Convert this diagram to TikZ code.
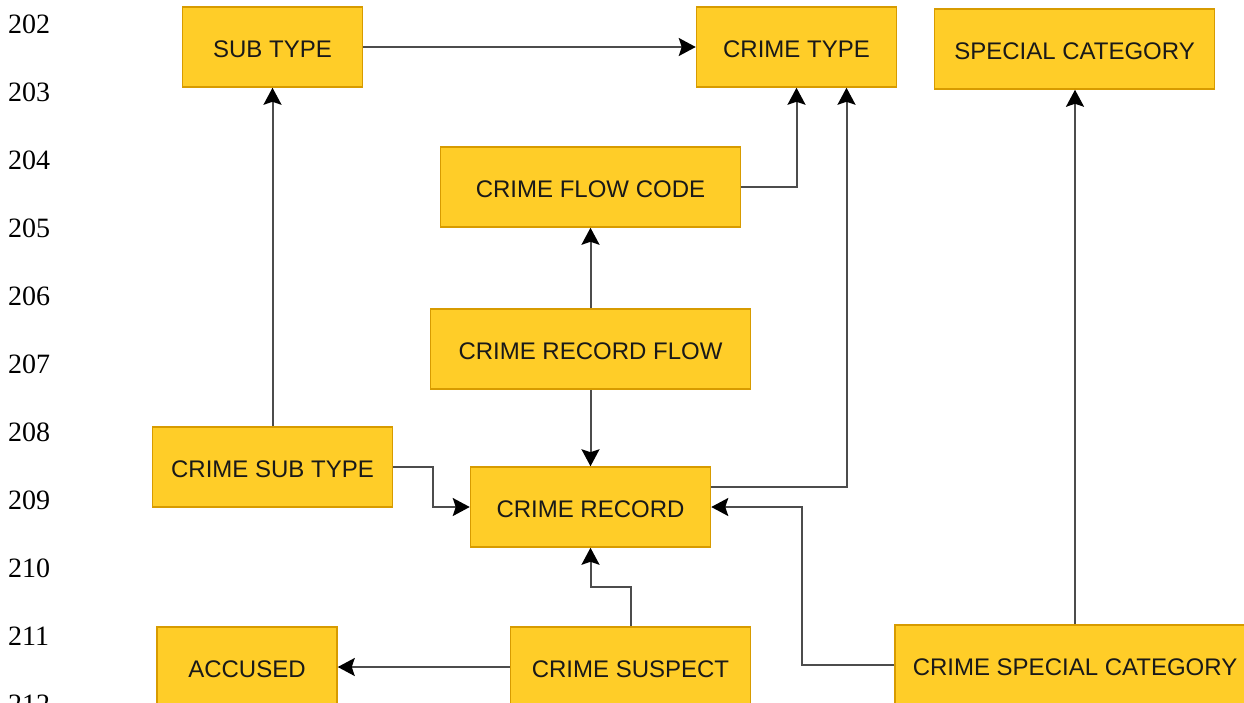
\documentclass[tikz,border=0pt]{standalone}
\usepackage{fontspec}
\usetikzlibrary{arrows.meta,calc}
\newfontfamily\boxfont{Liberation Sans}
\newfontfamily\numfont{Liberation Serif}
\definecolor{boxfill}{HTML}{FFCD28}
\definecolor{boxline}{HTML}{D79B00}
\tikzset{x=1pt,y=1pt,
    tablebox/.style={draw=boxline,fill=boxfill,line width=1.5pt,inner sep=0pt,
        minimum height=80pt,text height=21pt,text depth=0pt,text=black!90,
        font=\boxfont\fontsize{24}{28}\selectfont},
    link/.style={draw=black!70,line width=2pt,
        -{Stealth[length=17pt,width=18pt,inset=3pt,color=black]}},
    lineno/.style={anchor=west,inner sep=0pt,font=\numfont\fontsize{28}{32}\selectfont},
    }
\begin{document}
\begin{tikzpicture}
	\useasboundingbox (0,0) rectangle (1244,-702);
	\clip (0,0) rectangle (1244,-702);
	% line numbers
	\foreach \i in {0,...,10}{
		\pgfmathtruncatemacro\num{202+\i}
		\node[lineno] (ln\i) at (8,-24-68*\i) {\num};
	}
	% tables
	\node[tablebox,minimum width=180pt] (subtype) at (272.5,-47) {SUB TYPE};
	\node[tablebox,minimum width=200pt] (crimetype) at (796.5,-47) {CRIME TYPE};
	\node[tablebox,minimum width=280pt] (specialcat) at (1074.5,-49) {SPECIAL CATEGORY};
	\node[tablebox,minimum width=300pt] (flowcode) at (590.5,-187) {CRIME FLOW CODE};
	\node[tablebox,minimum width=320pt] (recordflow) at (590.5,-349) {CRIME RECORD FLOW};
	\node[tablebox,minimum width=240pt] (crimesubtype) at (272.5,-467) {CRIME SUB TYPE};
	\node[tablebox,minimum width=240pt] (record) at (590.5,-507) {CRIME RECORD};
	\node[tablebox,minimum width=180pt] (accused) at (247,-667) {ACCUSED};
	\node[tablebox,minimum width=240pt] (suspect) at (630.5,-667) {CRIME SUSPECT};
	\node[tablebox,minimum width=360pt] (crimespecial) at (1075,-665) {CRIME SPECIAL CATEGORY};
	% links
	\draw[link] (subtype.east) -- (crimetype.west);
	\draw[link] (crimesubtype.north) -- (subtype.south);
	\draw[link] (flowcode.east) -| (crimetype.south);
	\draw[link] ($(record.north east)!.25!(record.south east)$) -| ($(crimetype.south)+(50,0)$);
	\draw[link] (recordflow.north) -- (flowcode.south);
	\draw[link] (recordflow.south) -- (record.north);
	\draw[link] (crimesubtype.east) -- ++(40,0) |- (record.west);
	\coordinate (susmid) at ($(suspect.north)!.5!(record.south)$);
	\draw[link] (suspect.north) |- (susmid) -| (record.south);
	\draw[link] (suspect.west) -- (accused.east);
	\draw[link] (crimespecial.west) -- ++(-92,0) |- (record.east);
	\draw[link] (crimespecial.north) -- (crimespecial.north |- specialcat.south);
\end{tikzpicture}
\end{document}
